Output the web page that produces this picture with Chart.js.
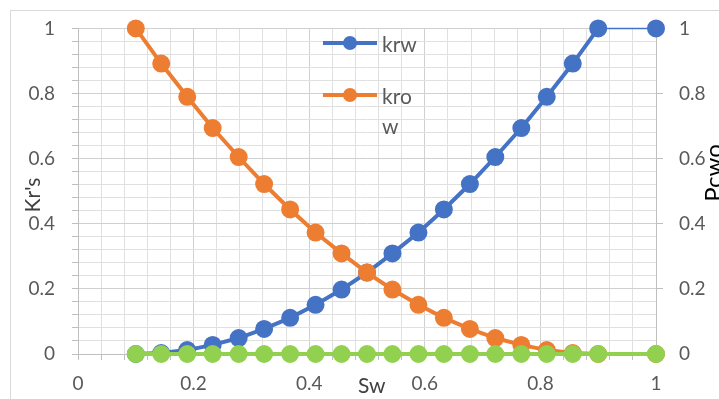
<!DOCTYPE html>
<html>
<head>
<meta charset="utf-8">
<script src="https://cdn.jsdelivr.net/npm/chart.js@4"></script>
<style>
  html, body { margin: 0; padding: 0; background: #fff; }
  #wrap { width: 719px; height: 399px; position: relative; }
</style>
</head>
<body>
<div id="wrap"><canvas id="kr"></canvas></div>
<script>
// Datos
const sw = [0.1, 0.144, 0.189, 0.233, 0.278, 0.322, 0.367, 0.411, 0.456, 0.5,
            0.544, 0.589, 0.633, 0.678, 0.722, 0.767, 0.811, 0.856, 0.9, 1.0];
const krw = [0, 0.003, 0.012, 0.028, 0.049, 0.077, 0.111, 0.151, 0.198, 0.25,
             0.309, 0.373, 0.444, 0.522, 0.605, 0.694, 0.79, 0.892, 1, 1];
const kro = [1, 0.892, 0.79, 0.694, 0.605, 0.522, 0.444, 0.373, 0.309, 0.25,
             0.198, 0.151, 0.111, 0.077, 0.049, 0.028, 0.012, 0.003, 0, 0];
const pcwo = [0, 0, 0, 0, 0, 0, 0, 0, 0, 0, 0, 0, 0, 0, 0, 0, 0, 0, 0, 0];
const seriesNames = ['krw', 'krow', 'Pcwo'];
const legendLines = [['krw'], ['kro', 'w']];
const xTitle = 'Sw', yTitle = "Kr's", y2Title = 'Pcwo';

const FONT = 'Lato';
const isMajor = v => Math.abs(v / 0.2 - Math.round(v / 0.2)) < 1e-6;
const fmt = v => isMajor(v) ? String(Math.round(v * 10) / 10) : '';
const pts = ys => sw.map((x, i) => ({ x: x, y: ys[i] }));

function fitSize(prop, size) {
  return function (scale) { scale[prop] = size; };
}

// Borde, títulos de ejes y leyenda a mano (como en Excel)
const extras = {
  id: 'extras',
  beforeDraw(chart) {
    const c = chart.ctx;
    c.save();
    c.strokeStyle = '#d9d9d9';
    c.lineWidth = 1;
    c.strokeRect(10.5, 10.5, 900, 900);
    c.restore();
  },
  afterDraw(chart) {
    const c = chart.ctx;
    c.save();
    c.fillStyle = '#404040';
    c.font = '21px ' + FONT;
    c.textBaseline = 'alphabetic';
    c.textAlign = 'left';
    c.fillText(xTitle, 358, 393);

    c.textAlign = 'center';
    c.save();
    c.translate(40, 195);
    c.rotate(-Math.PI / 2);
    c.fillText(yTitle, 0, 0);
    c.restore();
    c.save();
    c.fillStyle = '#000';
    c.font = '24px ' + FONT;
    c.translate(722, 173);
    c.rotate(-Math.PI / 2);
    c.fillText(y2Title, 0, 0);
    c.restore();

    // leyenda
    const rows = [43, 95];
    chart.data.datasets.slice(0, 2).forEach((ds, i) => {
      const y = rows[i];
      c.strokeStyle = ds.borderColor;
      c.lineWidth = 4;
      c.beginPath();
      c.moveTo(323, y);
      c.lineTo(377, y);
      c.stroke();
      c.fillStyle = ds.borderColor;
      c.beginPath();
      c.arc(350, y, 7, 0, Math.PI * 2);
      c.fill();
      c.fillStyle = '#595959';
      c.font = '21px ' + FONT;
      c.textAlign = 'left';
      legendLines[i].forEach((t, j) => c.fillText(t, 382, y + 9 + j * 30));
    });
    c.restore();
  }
};

const ctx = document.getElementById('kr').getContext('2d');
new Chart(ctx, {
  type: 'scatter',
  data: {
    datasets: [{
      label: seriesNames[0],
      data: pts(krw),
      borderColor: '#4472C4',
      backgroundColor: '#4472C4',
      borderWidth: 4,
      pointRadius: 7,
      showLine: true,
      clip: false,
      order: 3,
      yAxisID: 'y',
      segment: { borderWidth: s => s.p0DataIndex === sw.length - 2 ? 1.5 : 4 }
    }, {
      label: seriesNames[1],
      data: pts(kro),
      borderColor: '#ED7D31',
      backgroundColor: '#ED7D31',
      borderWidth: 4,
      pointRadius: 7,
      showLine: true,
      clip: false,
      order: 2,
      yAxisID: 'y'
    }, {
      label: seriesNames[2],
      data: pts(pcwo),
      borderColor: '#92D050',
      backgroundColor: '#92D050',
      borderWidth: 4,
      pointRadius: 7,
      showLine: true,
      clip: false,
      order: 1,
      yAxisID: 'y2'
    }]
  },
  options: {
    responsive: true,
    maintainAspectRatio: false,
    animation: false,
    layout: { padding: { top: 26, left: 0, right: 0, bottom: 0 } },
    plugins: { legend: { display: false }, tooltip: { enabled: false } },
    scales: {
      x: {
        type: 'linear', min: 0, max: 1,
        afterFit: fitSize('height', 45),
        border: { color: '#bfbfbf', width: 1 },
        grid: {
          color: c => isMajor(c.tick.value) ? '#d0d0d0' : '#e0e0e0',
          tickColor: '#bfbfbf',
          tickLength: 6
        },
        ticks: {
          stepSize: 0.04, autoSkip: false, maxRotation: 0,
          padding: 12, color: '#595959',
          font: { family: FONT, size: 19 },
          callback: v => fmt(v)
        }
      },
      y: {
        position: 'left', min: 0, max: 1,
        afterFit: fitSize('width', 78),
        border: { color: '#bfbfbf', width: 1 },
        grid: {
          color: c => isMajor(c.tick.value) ? '#d0d0d0' : '#e0e0e0',
          tickColor: '#bfbfbf',
          tickLength: 6
        },
        ticks: {
          stepSize: 0.04, autoSkip: false,
          padding: 17, color: '#595959',
          font: { family: FONT, size: 19 },
          callback: v => fmt(v)
        }
      },
      y2: {
        position: 'right', min: 0, max: 1,
        afterFit: fitSize('width', 63),
        border: { color: '#bfbfbf', width: 1 },
        grid: { drawOnChartArea: false, tickColor: '#bfbfbf', tickLength: 7 },
        ticks: {
          stepSize: 0.2, autoSkip: false,
          padding: 16, color: '#595959',
          font: { family: FONT, size: 19 },
          callback: v => fmt(v)
        }
      }
    }
  },
  plugins: [extras]
});
</script>
</body>
</html>
